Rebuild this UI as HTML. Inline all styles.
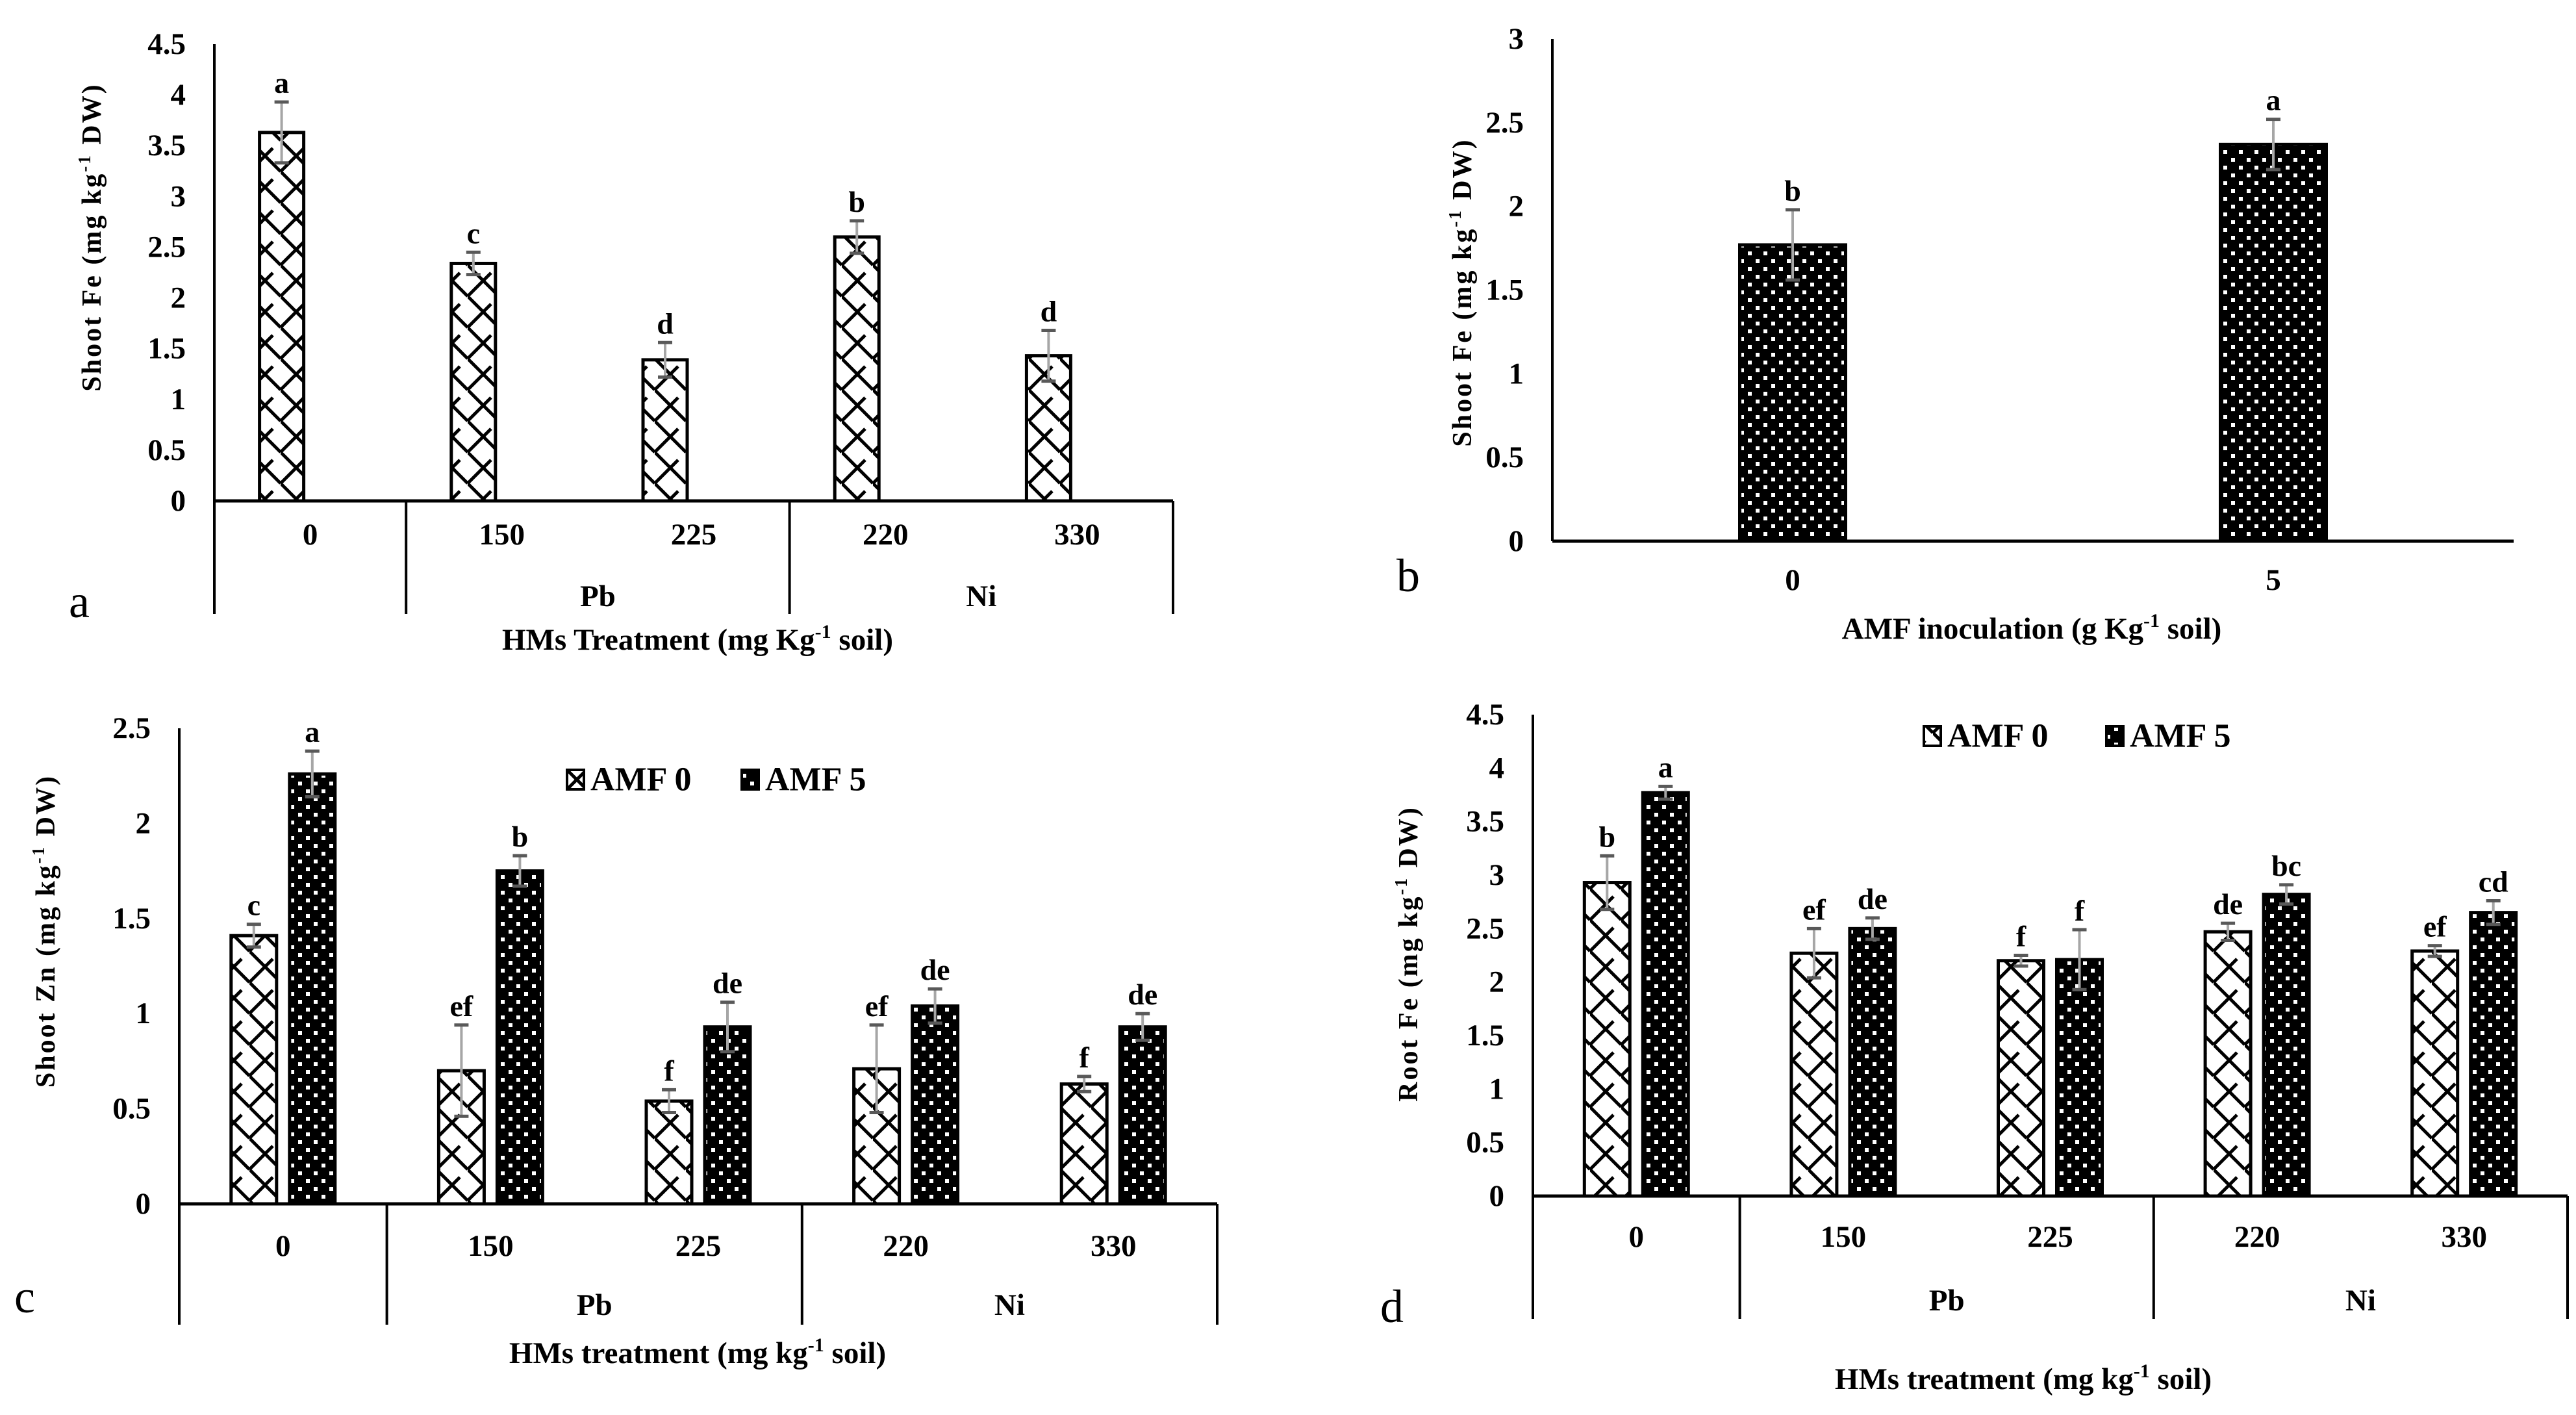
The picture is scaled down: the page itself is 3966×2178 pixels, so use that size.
<!DOCTYPE html>
<html><head><meta charset="utf-8"><title>Shoot and root Fe and Zn under heavy-metal treatments and AMF inoculation</title>
<style>
html,body{margin:0;padding:0;background:#fff;}
svg{display:block;font-family:"Liberation Serif","Times New Roman",serif;}
</style></head>
<body>
<svg id="fig" xmlns="http://www.w3.org/2000/svg" width="3966" height="2178" viewBox="0 0 3966 2178">
<defs>
<pattern id="zig" patternUnits="userSpaceOnUse" width="48" height="48">
<rect width="48" height="48" fill="#fff"/>
<path d="M0,24 L24,0 M24,0 L48,24 M0,24 L24,48 M24,48 L36,36" stroke="#000" stroke-width="5" fill="none"/>
</pattern>
<pattern id="dots" patternUnits="userSpaceOnUse" width="24" height="24">
<rect width="24" height="24" fill="#000"/>
<rect x="3" y="3" width="6" height="6" fill="#fff"/>
<rect x="15" y="15" width="6" height="6" fill="#fff"/>
</pattern>
</defs>
<g id="root"></g>
</svg>
<script>
// ---- Panel a: Shoot Fe by HMs treatment ----
const aCategories = ["0", "150", "225", "220", "330"];
const aValues = [3.63, 2.34, 1.39, 2.60, 1.43];
const aErrors = [0.30, 0.11, 0.17, 0.16, 0.25];
const aLetters = ["a", "c", "d", "b", "d"];
const aTicks = ["0", "0.5", "1", "1.5", "2", "2.5", "3", "3.5", "4", "4.5"];
// ---- Panel b: Shoot Fe by AMF inoculation ----
const bCategories = ["0", "5"];
const bValues = [1.77, 2.37];
const bErrors = [0.21, 0.15];
const bLetters = ["b", "a"];
const bTicks = ["0", "0.5", "1", "1.5", "2", "2.5", "3"];
// ---- Panel c: Shoot Zn ----
const cCategories = ["0", "150", "225", "220", "330"];
const cAmf0 = [1.41, 0.70, 0.54, 0.71, 0.63];
const cAmf0Err = [0.06, 0.24, 0.06, 0.23, 0.04];
const cAmf0Letters = ["c", "ef", "f", "ef", "f"];
const cAmf5 = [2.26, 1.75, 0.93, 1.04, 0.93];
const cAmf5Err = [0.12, 0.08, 0.13, 0.09, 0.07];
const cAmf5Letters = ["a", "b", "de", "de", "de"];
const cTicks = ["0", "0.5", "1", "1.5", "2", "2.5"];
// ---- Panel d: Root Fe ----
const dCategories = ["0", "150", "225", "220", "330"];
const dAmf0 = [2.93, 2.27, 2.20, 2.47, 2.29];
const dAmf0Err = [0.25, 0.23, 0.05, 0.08, 0.05];
const dAmf0Letters = ["b", "ef", "f", "de", "ef"];
const dAmf5 = [3.77, 2.50, 2.21, 2.82, 2.65];
const dAmf5Err = [0.06, 0.10, 0.28, 0.09, 0.11];
const dAmf5Letters = ["a", "de", "f", "bc", "cd"];
const dTicks = ["0", "0.5", "1", "1.5", "2", "2.5", "3", "3.5", "4", "4.5"];
const groupLabels = ["Pb", "Ni"];

const NS = "http://www.w3.org/2000/svg";
const root = document.getElementById("root");
function mk(tag, attrs, parent, text) {
  const e = document.createElementNS(NS, tag);
  for (const k in attrs) e.setAttribute(k, attrs[k]);
  if (text !== undefined) e.textContent = text;
  (parent || root).appendChild(e);
  return e;
}

function panel(p) {
  const g = mk("g", {});
  
  
  const yScale = v => p.y0 - (v / p.ymax) * (p.y0 - p.yTop);
  const n = p.categories.length;
  const cw = (p.xEnd - p.x0) / n;
  const xCenter = i => p.x0 + cw * (i + 0.5);

  // y tick labels
  p.ticks.forEach(t => {
    const tl = mk("text", {x: p.x0 - 44, y: yScale(parseFloat(t)), "text-anchor": "end", "dominant-baseline": "central", "font-size": 47, "font-weight": "bold"}, g, t);
    
    
  });

  // bars
  p.series.forEach((s, si) => {
    s.values.forEach((v, i) => {
      const cx = xCenter(i) + s.offset;
      const top = yScale(v);
      const bar = mk("rect", {x: cx - p.barW / 2, y: top, width: p.barW, height: p.y0 - top, fill: "url(#" + s.fill + ")", stroke: "#000", "stroke-width": 5}, g);
      
      
      const eTop = yScale(v + s.errors[i]);
      const eBot = yScale(v - s.errors[i]);
      const eb = mk("g", {}, g);
      
      
      mk("line", {x1: cx, x2: cx, y1: eTop, y2: eBot, stroke: "#a6a6a6", "stroke-width": 4}, eb);
      mk("line", {x1: cx - 11, x2: cx + 11, y1: eTop, y2: eTop, stroke: "#595959", "stroke-width": 5}, eb);
      mk("line", {x1: cx - 11, x2: cx + 11, y1: eBot, y2: eBot, stroke: "#595959", "stroke-width": 5}, eb);
      const lt = mk("text", {x: cx, y: eTop - 14, "text-anchor": "middle", "font-size": 46, "font-weight": "bold"}, g, s.letters[i]);
      
      
    });
  });

  // axes
  const ya = mk("line", {x1: p.x0, x2: p.x0, y1: p.yTop, y2: p.grouped ? p.divBottom : p.y0, stroke: "#000", "stroke-width": 4}, g);
  
  
  const xa = mk("line", {x1: p.x0, x2: p.xEnd, y1: p.y0, y2: p.y0, stroke: "#000", "stroke-width": 5}, g);
  
  

  // category labels
  p.categories.forEach((c, i) => {
    const cl = mk("text", {x: xCenter(i), y: p.catY, "text-anchor": "middle", "dominant-baseline": "central", "font-size": 47, "font-weight": "bold"}, g, c);
    
    
  });

  if (p.grouped) {
    [1, 3, 5].forEach(k => {
      const d = mk("line", {x1: p.x0 + cw * k, x2: p.x0 + cw * k, y1: p.y0, y2: p.divBottom, stroke: "#000", "stroke-width": 4}, g);
      
      
    });
    groupLabels.forEach((gl, k) => {
      const t = mk("text", {x: p.x0 + cw * (2 + 2 * k), y: p.groupY, "text-anchor": "middle", "dominant-baseline": "central", "font-size": 47, "font-weight": "bold"}, g, gl);
      
      
    });
  }

  // x title
  const xt = mk("text", {x: p.xTitleX, y: p.xTitleY, "text-anchor": "middle", "font-size": 47, "font-weight": "bold"}, g);
  
  
  mk("tspan", {}, xt, p.xTitle[0]);
  mk("tspan", {dy: -18, "font-size": 30}, xt, "-1");
  mk("tspan", {dy: 18}, xt, p.xTitle[1]);

  // y title
  const yt = mk("text", {x: 0, y: 0, "text-anchor": "middle", "font-size": 42, "font-weight": "bold", "letter-spacing": 3, transform: "translate(" + p.yTitleX + "," + p.yTitleY + ") rotate(-90)"}, g);
  
  
  mk("tspan", {}, yt, p.yTitle[0]);
  mk("tspan", {dy: -16, "font-size": 27}, yt, "-1");
  mk("tspan", {dy: 16}, yt, p.yTitle[1]);

  // panel letter
  const pl = mk("text", {x: p.letterX, y: p.letterY, "text-anchor": "middle", "font-size": 72}, g, p.letter);
  
  

  // legend
  if (p.legend) {
    const lg = mk("g", {}, g);
    
    
    p.legend.forEach(it => {
      const e = mk("g", {}, lg);
      
      
      mk("rect", {x: it.x, y: p.legendY - 13, width: 26, height: 30, fill: "url(#" + it.fill + ")", stroke: "#000", "stroke-width": 4}, e);
      mk("text", {x: it.x + 36, y: p.legendY + 2, "dominant-baseline": "central", "font-size": 52, "font-weight": "bold"}, e, it.label);
    });
  }
}

panel({name: "panel-a-shoot-fe", letter: "a", categories: aCategories, ticks: aTicks, ymax: 4.5,
  x0: 330, xEnd: 1806, y0: 771, yTop: 68, barW: 68, grouped: true, divBottom: 945,
  series: [{key: "shoot-fe", values: aValues, errors: aErrors, letters: aLetters, fill: "zig", offset: -44}],
  catY: 823, groupY: 918, xTitle: ["HMs Treatment (mg Kg", " soil)"], xTitleX: 1074, xTitleY: 1000,
  yTitle: ["Shoot Fe (mg kg", " DW)"], yTitleX: 155, yTitleY: 365, letterX: 122, letterY: 950});

panel({name: "panel-b-shoot-fe-amf", letter: "b", categories: bCategories, ticks: bTicks, ymax: 3,
  x0: 2390, xEnd: 3870, y0: 833, yTop: 60, barW: 163, grouped: false,
  series: [{key: "shoot-fe-amf", values: bValues, errors: bErrors, letters: bLetters, fill: "dots", offset: 0}],
  catY: 893, xTitle: ["AMF inoculation (g Kg", " soil)"], xTitleX: 3128, xTitleY: 983,
  yTitle: ["Shoot Fe (mg kg", " DW)"], yTitleX: 2265, yTitleY: 450, letterX: 2168, letterY: 910});

panel({name: "panel-c-shoot-zn", letter: "c", categories: cCategories, ticks: cTicks, ymax: 2.5,
  x0: 276, xEnd: 1874, y0: 1853, yTop: 1121, barW: 70, grouped: true, divBottom: 2039,
  series: [{key: "amf0", values: cAmf0, errors: cAmf0Err, letters: cAmf0Letters, fill: "zig", offset: -45},
           {key: "amf5", values: cAmf5, errors: cAmf5Err, letters: cAmf5Letters, fill: "dots", offset: 45}],
  catY: 1918, groupY: 2009, xTitle: ["HMs treatment (mg kg", " soil)"], xTitleX: 1074, xTitleY: 2098,
  yTitle: ["Shoot Zn (mg kg", " DW)"], yTitleX: 84, yTitleY: 1433, letterX: 38, letterY: 2020,
  legendY: 1198, legend: [{x: 873, label: "AMF 0", fill: "zig"}, {x: 1142, label: "AMF 5", fill: "dots"}]});

panel({name: "panel-d-root-fe", letter: "d", categories: dCategories, ticks: dTicks, ymax: 4.5,
  x0: 2360, xEnd: 3953, y0: 1841, yTop: 1100, barW: 70, grouped: true, divBottom: 2030,
  series: [{key: "amf0", values: dAmf0, errors: dAmf0Err, letters: dAmf0Letters, fill: "zig", offset: -45},
           {key: "amf5", values: dAmf5, errors: dAmf5Err, letters: dAmf5Letters, fill: "dots", offset: 45}],
  catY: 1904, groupY: 2002, xTitle: ["HMs treatment (mg kg", " soil)"], xTitleX: 3115, xTitleY: 2138,
  yTitle: ["Root Fe (mg kg", " DW)"], yTitleX: 2182, yTitleY: 1468, letterX: 2143, letterY: 2035,
  legendY: 1131, legend: [{x: 2962, label: "AMF 0", fill: "zig"}, {x: 3243, label: "AMF 5", fill: "dots"}]});
</script>
</body></html>
